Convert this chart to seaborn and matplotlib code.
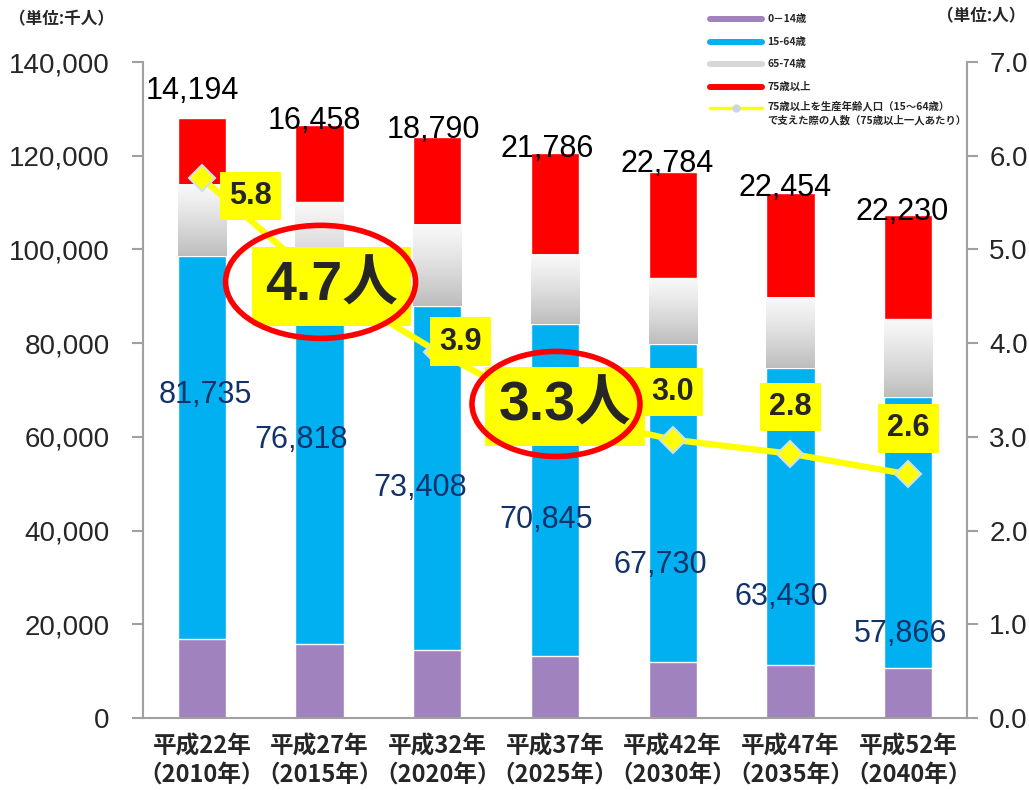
import numpy as np
import matplotlib
matplotlib.use("Agg")
import matplotlib.pyplot as plt
import seaborn as sns
from matplotlib.patches import Ellipse
from matplotlib.lines import Line2D
from matplotlib.colors import LinearSegmentedColormap

# --- data (thousand persons) ---
CATEGORIES = ["平成22年\n（2010年）", "平成27年\n（2015年）", "平成32年\n（2020年）",
              "平成37年\n（2025年）", "平成42年\n（2030年）", "平成47年\n（2035年）",
              "平成52年\n（2040年）"]
AGE_0_14 = [16803, 15827, 14568, 13240, 12039, 11287, 10732]
AGE_15_64 = [81735, 76818, 73408, 70845, 67730, 63430, 57866]
AGE_65_74 = [15290, 17494, 17334, 14788, 14065, 14953, 16448]
AGE_75_PLUS = [14194, 16458, 18790, 21786, 22784, 22454, 22230]
SUPPORT_RATIO = [5.76, 4.67, 3.91, 3.25, 2.97, 2.82, 2.60]
RATIO_LABELS = ["5.8", "4.7人", "3.9", "3.3人", "3.0", "2.8", "2.6"]
BIG_LABELS = [1, 3]

# --- label placement (pixels in the 1029x790 canvas) ---
RATIO_OFFSETS = [(49, -18), (12, -6), (23, 10), (10, 7), (0, 48), (0, 47), (0, 46)]
ELLIPSES = {1: (1, -1.5, 190, 113), 3: (3, 9.5, 168, 105)}
TOP_OFFSETS = [(-10, 19), (-5, -4), (-4, -1), (-8, -4), (-6, 0), (-5, -3), (-6, -5)]
MID_POS = [(3, 69000), (-18, 59300), (-17, 49100), (-9, 42300),
           (-12, 32700), (-9, 25800), (-8, 17900)]

W, H = 1029, 790
LEFT, RIGHT, TOP, BOTTOM = 143, 967, 62, 718
CAT_PX = (RIGHT - LEFT) / 7
RATIO_PX = (BOTTOM - TOP) / 7

C_PURPLE = "#a082be"
C_BLUE = "#00b0f0"
C_RED = "#ff0000"
C_YELLOW = "#ffff00"
C_NAVY = "#14326a"
C_AXIS = "#a0a0a0"

sns.set_style("white")
plt.rcParams["font.family"] = ["Liberation Sans", "Noto Sans CJK JP", "DejaVu Sans"]
CJK = ["Noto Sans CJK JP", "DejaVu Sans"]


def fig_xy(x, y):
    return x / W, 1 - y / H


def main():
    fig = plt.figure(figsize=(W / 100, H / 100), dpi=100)
    ax = fig.add_axes([LEFT / W, 1 - BOTTOM / H, (RIGHT - LEFT) / W, (BOTTOM - TOP) / H])

    c1 = np.array(AGE_0_14)
    c2 = c1 + np.array(AGE_15_64)
    c3 = c2 + np.array(AGE_65_74)
    c4 = c3 + np.array(AGE_75_PLUS)

    # stacked bars drawn tallest first
    sns.barplot(x=CATEGORIES, y=c4, color=C_RED, saturation=1, width=0.41,
                errorbar=None, ax=ax)
    n0 = len(ax.patches)
    sns.barplot(x=CATEGORIES, y=c3, color="#dddddd", saturation=1, width=0.41,
                errorbar=None, ax=ax)
    gray_bars = ax.patches[n0:]
    sns.barplot(x=CATEGORIES, y=c2, color=C_BLUE, saturation=1, width=0.41,
                errorbar=None, ax=ax)
    sns.barplot(x=CATEGORIES, y=c1, color=C_PURPLE, saturation=1, width=0.41,
                errorbar=None, ax=ax)

    # white-to-gray gradient for the 65-74 segment
    cmap = LinearSegmentedColormap.from_list("g", ["#f8f8f8", "#bdbdbd"])
    grad = (np.linspace(0, 1, 200) ** 1.2).reshape(-1, 1)
    for i, p in enumerate(gray_bars):
        x0 = p.get_x()
        ax.imshow(grad, extent=[x0, x0 + p.get_width(), c2[i], c3[i]],
                  aspect="auto", cmap=cmap, origin="upper", zorder=1.5)

    ax.set_xlim(-0.5, 6.5)
    ax.set_ylim(0, 140000)
    ax.set_yticks(np.arange(0, 140001, 20000))
    ax.set_yticklabels([f"{v:,}" for v in range(0, 140001, 20000)])
    ax.set_xticks(np.arange(7))
    ax.set_xticklabels(CATEGORIES, fontsize=17, fontweight="bold",
                       family=CJK, linespacing=1.2)
    ax.set_xticks(np.arange(-0.5, 7, 1), minor=True)
    ax.tick_params(axis="x", which="major", length=0, pad=12)
    ax.tick_params(axis="x", which="minor", length=7, width=1.5, color=C_AXIS,
                   direction="out")
    ax.tick_params(axis="y", length=8, width=1.5, color=C_AXIS, direction="out",
                   labelsize=20, pad=16, left=True)
    ax.set_xlabel("")
    ax.set_ylabel("")
    for s in ["top", "right"]:
        ax.spines[s].set_visible(False)
    for s in ["left", "bottom"]:
        ax.spines[s].set_color(C_AXIS)
        ax.spines[s].set_linewidth(1.5)

    # value labels
    for i, v in enumerate(AGE_75_PLUS):
        dx, dy = TOP_OFFSETS[i]
        ax.annotate(f"{v:,}", (i, c4[i]), xytext=(dx * 0.72, dy * 0.72),
                    textcoords="offset points", ha="center", va="baseline",
                    fontsize=22, color="black", zorder=5)
    for i, v in enumerate(AGE_15_64):
        dx, y = MID_POS[i]
        ax.text(i + dx / CAT_PX, y, f"{v:,}", ha="center", va="center",
                fontsize=22, color=C_NAVY, zorder=5)

    # support ratio on right axis
    ax2 = ax.twinx()
    x = np.arange(len(SUPPORT_RATIO))
    sns.lineplot(x=x, y=SUPPORT_RATIO, ax=ax2, color=C_YELLOW, lw=4.5,
                 marker="D", markersize=13, markerfacecolor=C_YELLOW,
                 markeredgecolor="#cfe0ee", markeredgewidth=1.5, zorder=3)
    ax2.set_ylim(0, 7)
    ax2.set_yticks(np.arange(0, 7.01, 1))
    ax2.set_yticklabels([f"{v:.1f}" for v in np.arange(0, 7.01, 1)])
    ax2.tick_params(axis="y", length=8, width=1.5, color=C_AXIS, direction="out",
                    labelsize=20, pad=8, right=True)
    ax2.set_ylabel("")
    for s in ["top", "left", "bottom"]:
        ax2.spines[s].set_visible(False)
    ax2.spines["right"].set_color(C_AXIS)
    ax2.spines["right"].set_linewidth(1.5)

    for i, lab in enumerate(RATIO_LABELS):
        dx, dy = RATIO_OFFSETS[i]
        big = i in BIG_LABELS
        ax2.annotate(lab, (i, SUPPORT_RATIO[i]), xytext=(dx * 0.72, dy * 0.72),
                     textcoords="offset points", ha="center", va="center",
                     fontsize=40 if big else 22, fontweight="bold", zorder=6,
                     bbox=dict(boxstyle="square,pad=0.24" if big else "square,pad=0.3",
                               fc=C_YELLOW, ec="none"))
    for i, (xi, dy, w, h) in ELLIPSES.items():
        ax2.add_patch(Ellipse((xi + 1 / CAT_PX, SUPPORT_RATIO[i] + dy / RATIO_PX),
                              w / CAT_PX, h / RATIO_PX, fill=False, ec=C_RED,
                              lw=4, zorder=7, clip_on=False))

    # units
    fig.text(*fig_xy(62, 19), "（単位:千人）", ha="center", va="center",
             fontsize=12, fontweight="bold", family=CJK)
    fig.text(*fig_xy(981, 16), "（単位:人）", ha="center", va="center",
             fontsize=12, fontweight="bold", family=CJK)

    # legend
    rows = [(19, C_PURPLE, "0－14歳"), (42, C_BLUE, "15-64歳"),
            (64, "#d6d6d6", "65-74歳"), (87, C_RED, "75歳以上")]
    for y, col, lab in rows:
        fig.add_artist(Line2D([710 / W, 762 / W], [1 - y / H] * 2, color=col, lw=4.3))
        fig.text(*fig_xy(767, y), lab, ha="left", va="center", fontsize=7.5,
                 fontweight="bold", family=CJK)
    fig.add_artist(Line2D([710 / W, 762 / W], [1 - 108 / H] * 2, color=C_YELLOW, lw=2.5))
    fig.add_artist(Line2D([736 / W], [1 - 108 / H], marker="o", markersize=5,
                          color="#c8d8e0"))
    fig.text(*fig_xy(767, 101), "75歳以上を生産年齢人口（15～64歳）\nで支えた際の人数（75歳以上一人あたり）",
             ha="left", va="top", fontsize=7.5, fontweight="bold", family=CJK,
             linespacing=1.35)

    fig.savefig("out.png", dpi=100)


if __name__ == "__main__":
    main()
